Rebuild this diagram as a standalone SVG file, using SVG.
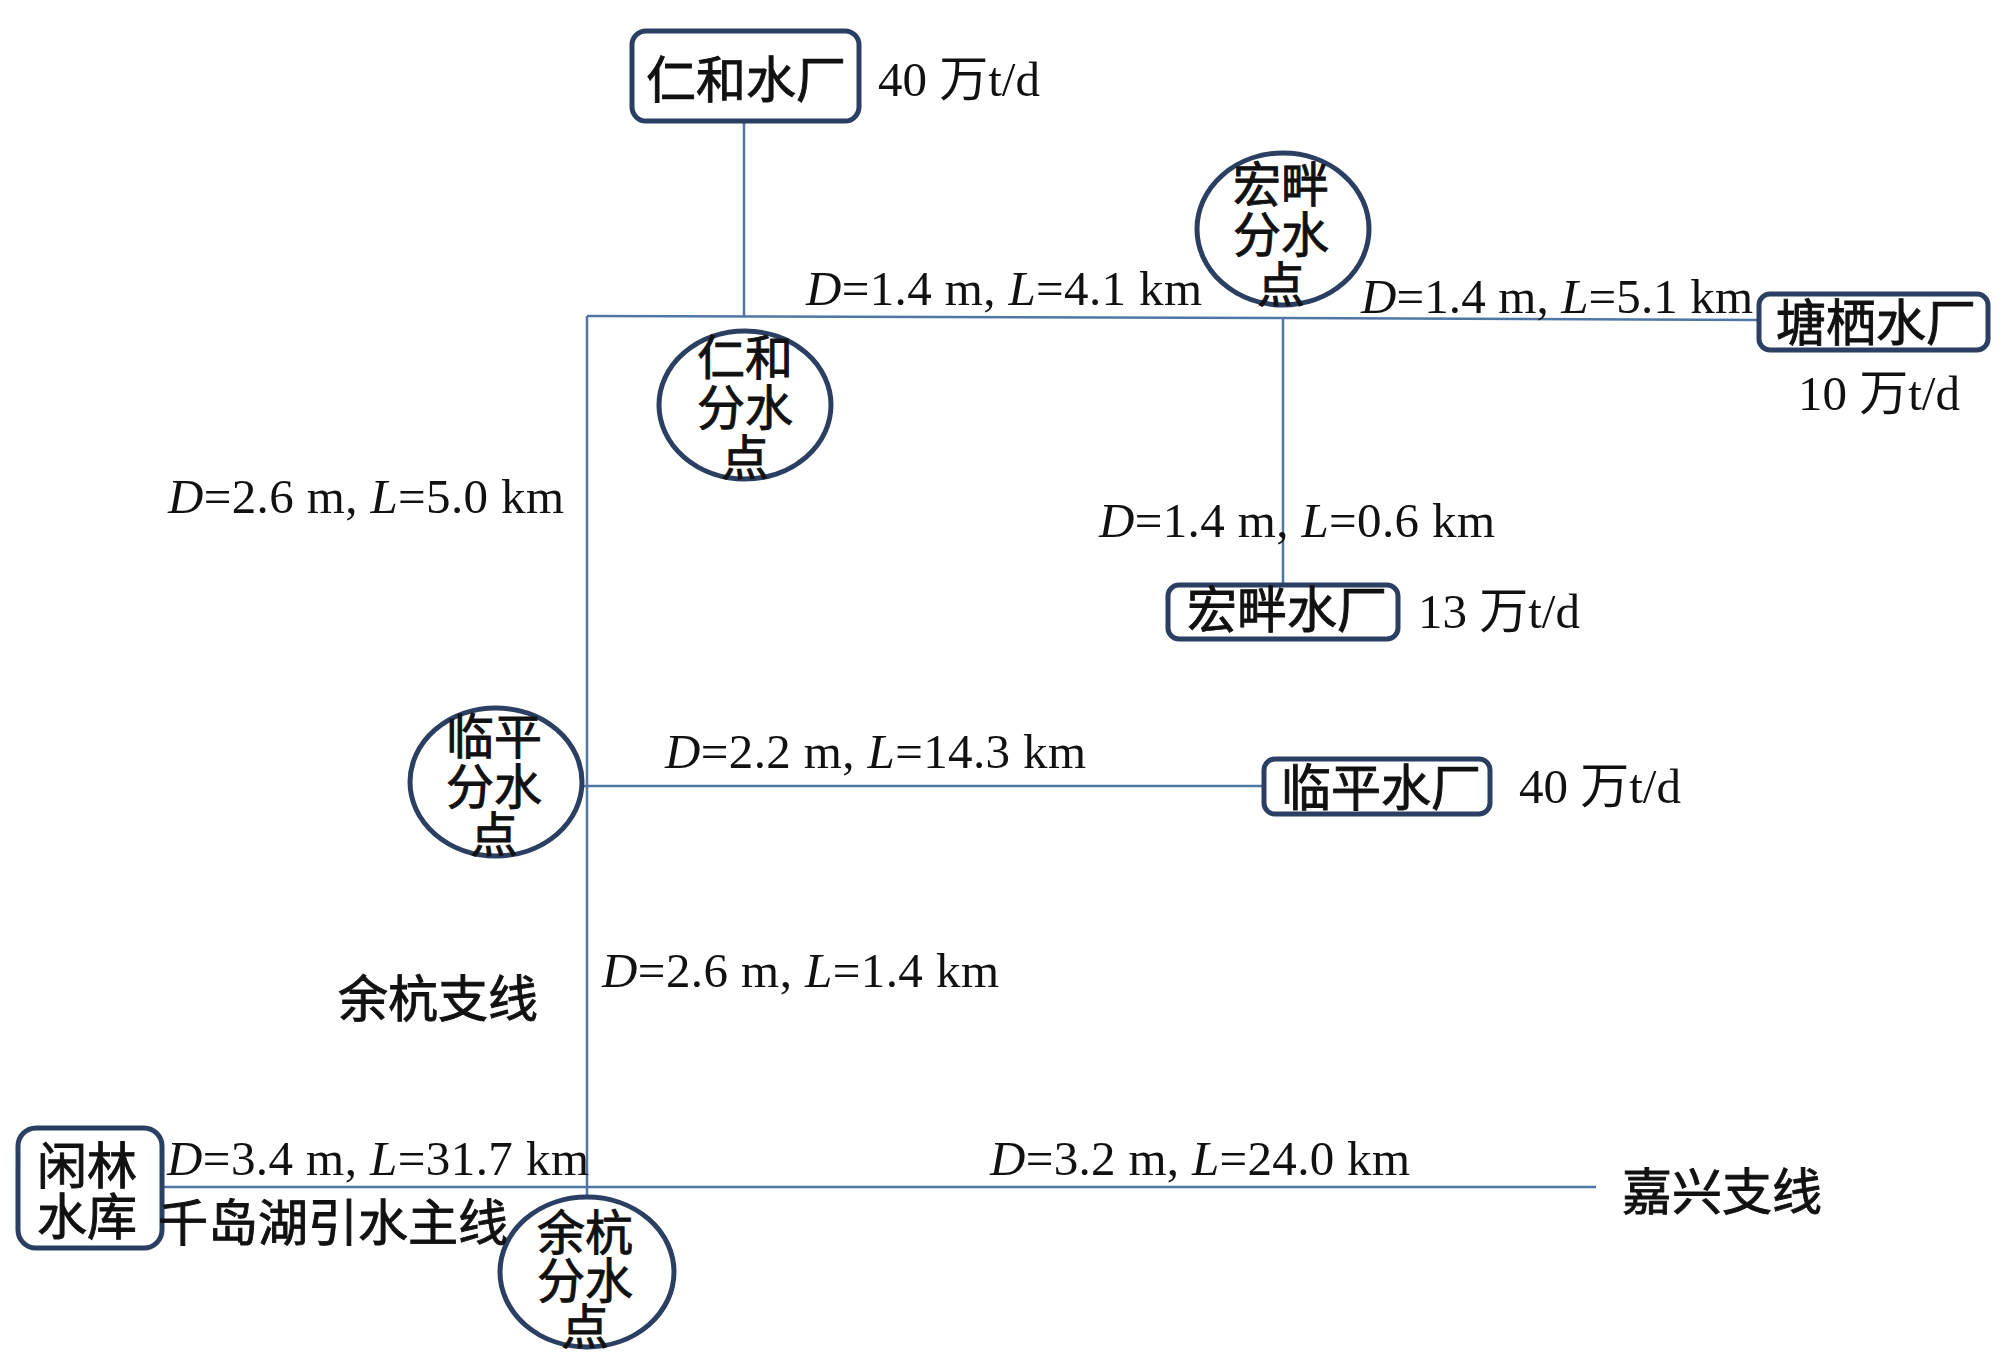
<svg xmlns="http://www.w3.org/2000/svg" width="2008" height="1370" viewBox="0 0 2008 1370">
<style>
.bg{fill:#ffffff}
.box{fill:#ffffff;stroke:#2a3f62;stroke-width:5}
.pt{fill:#ffffff;stroke:#2a3f62;stroke-width:5}
.cn{fill:none;stroke:#4f77a6;stroke-width:2.5}
.cjk{font-family:"Noto Sans CJK SC","Noto Sans CJK JP",sans-serif;fill:#111111;stroke:#111111;stroke-width:0.9}
.bt{font-size:50px;text-anchor:middle}
.ct{font-size:48px;text-anchor:middle}
.lab{font-family:"Liberation Serif","Noto Sans CJK SC",serif;font-size:49px;fill:#111111}
.cap{font-family:"Liberation Serif","Noto Sans CJK SC",serif;font-size:49px;fill:#111111}
.it{font-style:italic}
</style>
<rect class="bg" x="0" y="0" width="2008" height="1370"/>
<g id="connectors">
<line class="cn" x1="744" y1="121" x2="744" y2="316"/>
<polyline class="cn" points="587,316 1283,318 1759,320"/>
<line class="cn" x1="587" y1="316" x2="587" y2="1198"/>
<line class="cn" x1="1283" y1="318" x2="1283" y2="584"/>
<line class="cn" x1="583" y1="786" x2="1264" y2="786"/>
<line class="cn" x1="162" y1="1187" x2="1596" y2="1187"/>
</g>
<g id="renhe_plant">
<rect class="box" x="632" y="31" width="227" height="90" rx="14"/>
<text class="cjk bt" x="746" y="98">仁和水厂</text>
<text class="cap" x="878" y="96">40 万t/d</text>
</g>
<g id="tangqi_plant">
<rect class="box" x="1759" y="294" width="229" height="56" rx="11"/>
<text class="cjk bt" x="1876" y="341">塘栖水厂</text>
<text class="cap" x="1798" y="410">10 万t/d</text>
</g>
<g id="hongpan_plant">
<rect class="box" x="1168" y="585" width="230" height="54" rx="11"/>
<text class="cjk bt" x="1287" y="628">宏畔水厂</text>
<text class="cap" x="1418" y="628">13 万t/d</text>
</g>
<g id="linping_plant">
<rect class="box" x="1264" y="759" width="226" height="55" rx="11"/>
<text class="cjk bt" x="1381" y="806">临平水厂</text>
<text class="cap" x="1519" y="803">40 万t/d</text>
</g>
<g id="xianlin_reservoir">
<rect class="box" x="18" y="1128" width="144" height="120" rx="18"/>
<text class="cjk bt" x="87" y="1184">闲林</text>
<text class="cjk bt" x="87" y="1235">水库</text>
</g>
<g id="renhe_point">
<ellipse class="pt" cx="745" cy="405" rx="86" ry="74"/>
<text class="cjk ct" x="745" y="375">仁和</text>
<text class="cjk ct" x="745" y="425">分水</text>
<text class="cjk ct" x="745" y="475">点</text>
</g>
<g id="hongpan_point">
<ellipse class="pt" cx="1283" cy="229" rx="86" ry="76"/>
<text class="cjk ct" x="1281" y="202">宏畔</text>
<text class="cjk ct" x="1281" y="252">分水</text>
<text class="cjk ct" x="1281" y="302">点</text>
</g>
<g id="linping_point">
<ellipse class="pt" cx="496" cy="782" rx="86" ry="74"/>
<text class="cjk ct" x="494" y="754">临平</text>
<text class="cjk ct" x="494" y="804">分水</text>
<text class="cjk ct" x="494" y="852">点</text>
</g>
<g id="yuhang_point">
<ellipse class="pt" cx="587" cy="1272" rx="87" ry="75"/>
<text class="cjk ct" x="585" y="1250">余杭</text>
<text class="cjk ct" x="585" y="1298">分水</text>
<text class="cjk ct" x="585" y="1344">点</text>
</g>
<g id="labels">
<text class="lab" x="806" y="305" textLength="396" lengthAdjust="spacing"><tspan class="it">D</tspan>=1.4 m, <tspan class="it">L</tspan>=4.1 km</text>
<text class="lab" x="1361" y="313" textLength="392" lengthAdjust="spacing"><tspan class="it">D</tspan>=1.4 m, <tspan class="it">L</tspan>=5.1 km</text>
<text class="lab" x="1099" y="537" textLength="396" lengthAdjust="spacing"><tspan class="it">D</tspan>=1.4 m, <tspan class="it">L</tspan>=0.6 km</text>
<text class="lab" x="168" y="513" textLength="396" lengthAdjust="spacing"><tspan class="it">D</tspan>=2.6 m, <tspan class="it">L</tspan>=5.0 km</text>
<text class="lab" x="665" y="768" textLength="421" lengthAdjust="spacing"><tspan class="it">D</tspan>=2.2 m, <tspan class="it">L</tspan>=14.3 km</text>
<text class="lab" x="602" y="987" textLength="397" lengthAdjust="spacing"><tspan class="it">D</tspan>=2.6 m, <tspan class="it">L</tspan>=1.4 km</text>
<text class="lab" x="167" y="1175" textLength="422" lengthAdjust="spacing"><tspan class="it">D</tspan>=3.4 m, <tspan class="it">L</tspan>=31.7 km</text>
<text class="lab" x="990" y="1175" textLength="420" lengthAdjust="spacing"><tspan class="it">D</tspan>=3.2 m, <tspan class="it">L</tspan>=24.0 km</text>
<text class="cjk" x="338" y="1017" font-size="50">余杭支线</text>
<text class="cjk" x="158" y="1241" font-size="50">千岛湖引水主线</text>
<text class="cjk" x="1622" y="1210" font-size="50">嘉兴支线</text>
</g>
</svg>
